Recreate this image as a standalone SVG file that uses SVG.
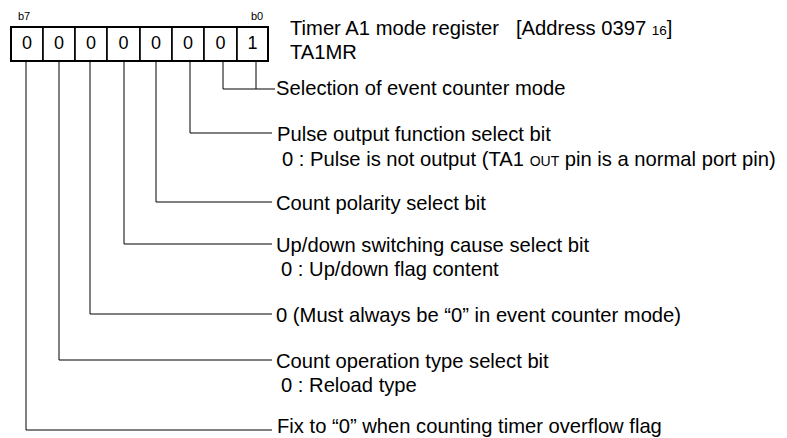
<svg xmlns="http://www.w3.org/2000/svg" width="787" height="438" viewBox="0 0 787 438">
<style>
text{font-family:"Liberation Sans",Arial,sans-serif;fill:#000}
.t{font-size:20.2px}
.s{font-size:11px}
.d{font-size:18px;text-anchor:middle}
.cell{fill:#fff;stroke:#000;stroke-width:1.6}
.ln{fill:none;stroke:#000;stroke-width:1}
</style>
<rect width="787" height="438" fill="#fff"/>
<g id="register">
<rect class="cell" x="11" y="27" width="32" height="34"/>
<rect class="cell" x="43" y="27" width="32" height="34"/>
<rect class="cell" x="75" y="27" width="32" height="34"/>
<rect class="cell" x="107" y="27" width="33" height="34"/>
<rect class="cell" x="140" y="27" width="32" height="34"/>
<rect class="cell" x="172" y="27" width="32" height="34"/>
<rect class="cell" x="204" y="27" width="33" height="34"/>
<rect class="cell" x="237" y="27" width="31" height="34"/>
<rect x="11" y="27" width="257" height="34" fill="none" stroke="#000" stroke-width="2"/>
<text class="d" x="27" y="49">0</text>
<text class="d" x="59" y="49">0</text>
<text class="d" x="91" y="49">0</text>
<text class="d" x="123.5" y="49">0</text>
<text class="d" x="156" y="49">0</text>
<text class="d" x="188" y="49">0</text>
<text class="d" x="220.5" y="49">0</text>
<text class="d" x="252.5" y="49">1</text>
<text class="s" x="18" y="20">b7</text>
<text class="s" x="251" y="20">b0</text>
</g>
<g id="title">
<text class="t" x="290" y="35">Timer A1 mode register<tspan x="516">[Address 0397 </tspan><tspan font-size="13.5">16</tspan>]</text>
<text class="t" x="290" y="59">TA1MR</text>
</g>
<g id="connectors">
<path class="ln" d="M256 61V89M223 61V89H275"/>
<path class="ln" d="M190 61V133H272"/>
<path class="ln" d="M156 61V202H272"/>
<path class="ln" d="M124 61V244H272"/>
<path class="ln" d="M90 61V314H272"/>
<path class="ln" d="M59 61V360H272"/>
<path class="ln" d="M26 61V430H272"/>
</g>
<g id="b0b1">
<text class="t" x="276" y="95">Selection of event counter mode</text>
</g>
<g id="b2">
<text class="t" x="277" y="141">Pulse output function select bit</text>
<text class="t" x="282" y="166">0 : Pulse is not output (TA1 <tspan font-size="14">OUT</tspan> pin is a normal port pin)</text>
</g>
<g id="b3">
<text class="t" x="276" y="210">Count polarity select bit</text>
</g>
<g id="b4">
<text class="t" x="276" y="252">Up/down switching cause select bit</text>
<text class="t" x="281" y="276">0 : Up/down flag content</text>
</g>
<g id="b5">
<text class="t" x="276" y="322">0 (Must always be “0” in event counter mode)</text>
</g>
<g id="b6">
<text class="t" x="276" y="368">Count operation type select bit</text>
<text class="t" x="281" y="392">0 : Reload type</text>
</g>
<g id="b7">
<text class="t" x="277" y="433">Fix to “0” when counting timer overflow flag</text>
</g>
</svg>
